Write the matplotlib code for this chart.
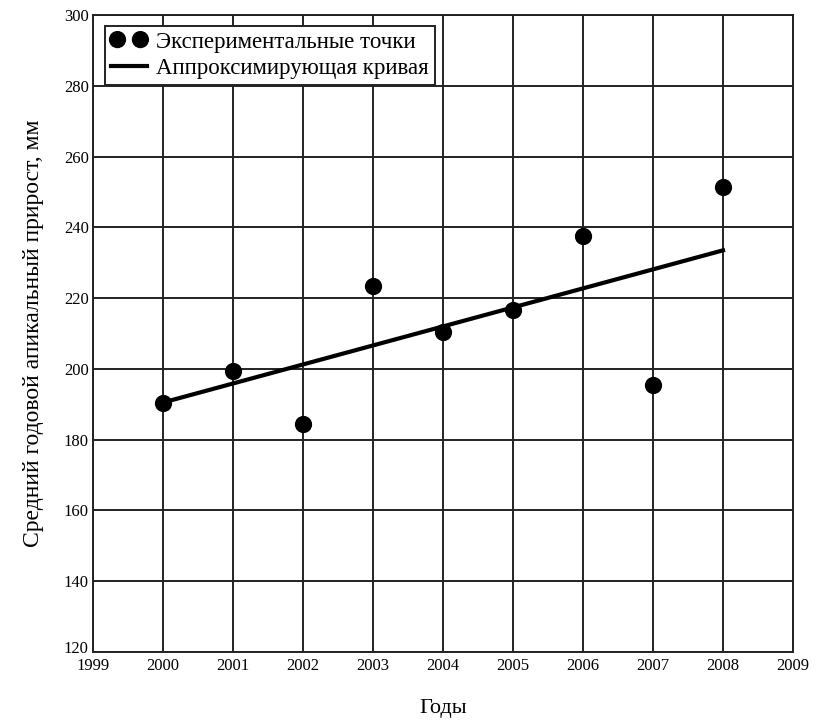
import matplotlib.pyplot as plt
import matplotlib.transforms as mtransforms

# Experimental data (years and mean annual apical growth, mm)
years = [2000, 2001, 2002, 2003, 2004, 2005, 2006, 2007, 2008]
growth = [190.5, 199.5, 184.5, 223.5, 210.5, 216.5, 237.5, 195.5, 251.5]

# Approximating line at its two ends
fit_years = [2000, 2008]
fit_growth = [190.5, 233.5]

x_ticks = list(range(1999, 2010))
y_ticks = list(range(120, 301, 20))

plt.rcParams['font.family'] = ['Liberation Serif', 'DejaVu Serif']

fig = plt.figure(figsize=(8.16, 7.21), dpi=100)
ax = fig.add_axes([93 / 816, 1 - 652 / 721, 700 / 816, 637 / 721])

ax.plot(fit_years, fit_growth, color='black', linewidth=3,
        label='Аппроксимирующая кривая', zorder=3)
ax.scatter(years, growth, s=130, color='black',
           label='Экспериментальные точки', zorder=4)

ax.set_xlim(1999, 2009)
ax.set_ylim(120, 300)
ax.set_xticks(x_ticks)
ax.set_yticks(y_ticks)
ax.tick_params(length=0, labelsize=12, pad=4)
ax.tick_params(axis='y', pad=3)
ax.grid(True, color='#222222', linewidth=1.4)
ax.set_axisbelow(True)
for s in ax.spines.values():
    s.set_linewidth(1.4)
    s.set_color('#222222')

# the bottom "120" sits a little above the axis corner, as in the original
fig.canvas.draw()
lbl = ax.get_yticklabels()[0]
lbl.set_transform(lbl.get_transform() +
                  mtransforms.ScaledTranslation(0, 5 / 100, fig.dpi_scale_trans))

ax.set_xlabel('Годы', fontsize=16, labelpad=18)
ax.set_ylabel('Средний годовой апикальный прирост, мм', fontsize=17, labelpad=14)

handles, labels = ax.get_legend_handles_labels()
leg = ax.legend(handles[::-1], labels[::-1], loc='upper left',
                bbox_to_anchor=(0.017, 0.983), fontsize=16.5, scatterpoints=2,
                scatteryoffsets=[0.5], frameon=True, fancybox=False,
                framealpha=1, borderpad=0.25, labelspacing=0.25,
                handlelength=1.6, handletextpad=0.4, borderaxespad=0)
leg.get_frame().set_edgecolor('#222222')
leg.get_frame().set_linewidth(1.4)

fig.savefig('out.png', dpi=100)
